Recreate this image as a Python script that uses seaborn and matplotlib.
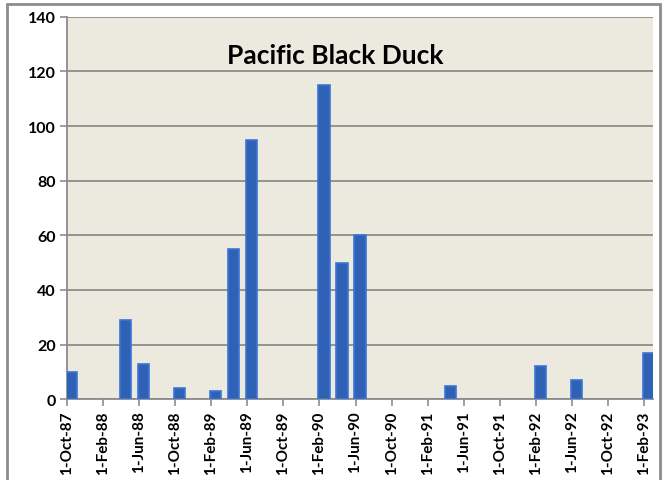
import matplotlib
matplotlib.use("Agg")
import matplotlib.pyplot as plt
import seaborn as sns
import pandas as pd
import numpy as np
from matplotlib.patches import Rectangle

# survey dates and counts
dates = ["1987-10-01", "1988-04-01", "1988-06-01", "1988-10-01", "1989-02-01",
         "1989-04-01", "1989-06-01", "1990-02-01", "1990-04-01", "1990-06-01",
         "1991-04-01", "1992-02-01", "1992-06-01", "1993-02-01"]
counts = [10, 29, 13, 4, 3, 55, 95, 115, 50, 60, 5, 12, 7, 17]

tick_dates = pd.date_range("1987-10-01", "1993-02-01", freq="4MS")
tick_labels = [f"{d.day}-{d.strftime('%b')}-{d.strftime('%y')}" for d in tick_dates]

start = pd.Timestamp("1987-10-01")

def month_index(d):
    d = pd.Timestamp(d)
    return (d.year - start.year) * 12 + (d.month - start.month)

df = pd.DataFrame({"date": pd.to_datetime(dates), "count": counts})
df["month"] = [month_index(d) + 0.5 for d in df["date"]]

sns.set_theme(style="white")
plt.rcParams["font.family"] = ["Lato", "DejaVu Sans"]

fig = plt.figure(figsize=(6.63, 4.81), dpi=100)
ax = fig.add_axes([0.101, 0.168, 0.884, 0.795])
ax.set_facecolor("#ECE9DF")

# chart border
fig.patches.append(Rectangle((0.011, -0.01), 0.984, 1.0, transform=fig.transFigure,
                             fill=False, edgecolor="#8C8C8C", linewidth=2.0))

ax.bar(df["month"], df["count"], width=1.25, color="#2F62B4",
       edgecolor="#3C74DA", linewidth=1.2, zorder=3)

ax.set_xlim(0, 65)
ax.set_ylim(0, 140)
ax.set_yticks(np.arange(0, 141, 20))
ax.set_yticklabels([str(v) for v in range(0, 141, 20)], fontsize=11.5, fontweight="bold")
ax.set_xticks([month_index(d) for d in tick_dates])
ax.set_xticklabels(tick_labels, rotation=90, fontsize=11, fontweight="bold")

ax.yaxis.grid(True, color="#8C8C8C", linewidth=1.3, zorder=0)
ax.set_axisbelow(True)
for side in ["top", "right"]:
    ax.spines[side].set_visible(False)
ax.spines["left"].set_color("#8C8C8C")
ax.spines["bottom"].set_color("#8C8C8C")
ax.spines["left"].set_linewidth(1.3)
ax.spines["bottom"].set_linewidth(1.3)
ax.tick_params(axis="both", which="both", length=5, width=1.2, color="#8C8C8C",
               direction="out", bottom=True, left=True, labelcolor="black", pad=3)

ax.text(0.458, 0.9, "Pacific Black Duck", transform=ax.transAxes, ha="center",
        va="center", fontsize=19, fontweight="bold", color="black")

ax.set_xlabel("")
ax.set_ylabel("")

fig.savefig("out.png", dpi=100)
